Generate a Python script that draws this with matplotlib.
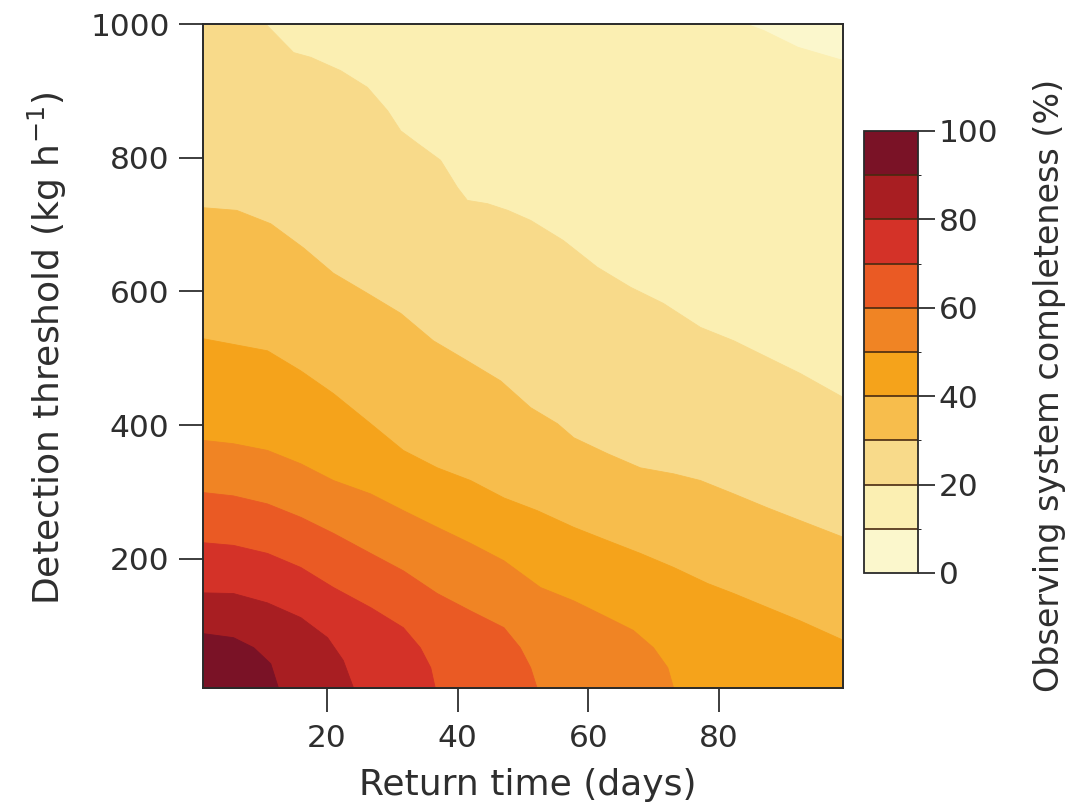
import matplotlib
matplotlib.use("Agg")
import matplotlib.pyplot as plt
import matplotlib.colors as mcolors
import matplotlib.colorbar as mcolorbar
import numpy as np

plt.rcParams['font.family'] = ['DejaVu Sans']

# Contour levels (completeness %) and band colours (0-10 ... 90-100)
levels = [0, 10, 20, 30, 40, 50, 60, 70, 80, 90, 100]
band_colors = ['#fbf7cc', '#fbefb2', '#f8da8a', '#f7bd4c', '#f5a31b',
               '#f08424', '#ea5a24', '#d43228', '#a81e22', '#7a1226']

# Detection threshold (kg/h) at which completeness equals each level,
# as a function of return time (days)
b10_x = [1, 84.3, 86.8, 92.0, 99]
b10_y = [1000, 1000, 991, 966, 946]

b20_x = [1, 10.6, 14.8, 17.4, 22.0, 26.1, 29.2, 31.2, 33.8, 37.3, 39.9, 41.4,
         44.5, 47.6, 51.1, 56.1, 61.3, 66.4, 71.4, 77.1, 82.2, 87.4, 92.4, 99]
b20_y = [1000, 1000, 958, 951, 931, 906, 871, 841, 822, 797, 756, 737,
         732, 722, 707, 677, 637, 607, 583, 547, 527, 502, 478, 442]

b30_x = [1, 6.1, 11.3, 16.3, 20.9, 26.1, 31.2, 36.2, 41.4, 46.5, 51.1, 55.2,
         57.7, 62.9, 67.9, 73.0, 77.1, 82.2, 87.4, 92.4, 99]
b30_y = [726, 722, 702, 666, 628, 598, 568, 527, 497, 467, 427, 403,
         382, 358, 337, 328, 318, 298, 277, 258, 233]

b40_x = [1, 10.8, 15.9, 20.9, 26.6, 31.6, 36.8, 41.9, 47.0, 52.1, 57.7, 62.9,
         67.9, 73.0, 78.2, 82.2, 87.4, 92.4, 99]
b40_y = [530, 512, 482, 448, 403, 363, 337, 318, 292, 273, 248, 228,
         209, 188, 164, 149, 128, 108, 79]

b50_x = [1, 5.6, 10.8, 15.9, 20.9, 26.6, 31.6, 36.8, 41.9, 47.0, 52.6, 57.7,
         62.9, 66.8, 69.9, 72.1, 73.0]
b50_y = [378, 373, 363, 343, 318, 298, 273, 248, 224, 198, 158, 138,
         113, 94, 68, 38, 7]

b60_x = [1, 5.6, 10.8, 15.9, 20.9, 26.6, 31.6, 36.8, 41.9, 47.0, 49.5, 51.1, 52.1]
b60_y = [300, 295, 283, 263, 239, 209, 183, 149, 123, 98, 68, 38, 7]

b70_x = [1, 5.6, 10.8, 15.9, 20.9, 26.6, 31.6, 34.2, 35.8, 36.5]
b70_y = [225, 221, 209, 188, 158, 128, 98, 68, 38, 7]

b80_x = [1, 5.6, 10.8, 15.9, 20.0, 22.4, 24.0]
b80_y = [150, 149, 135, 113, 83, 49, 7]

b90_x = [1, 5.6, 8.7, 11.3, 12.5]
b90_y = [89, 83, 68, 44, 7]

boundaries = [(b10_x, b10_y), (b20_x, b20_y), (b30_x, b30_y), (b40_x, b40_y),
              (b50_x, b50_y), (b60_x, b60_y), (b70_x, b70_y), (b80_x, b80_y),
              (b90_x, b90_y)]

x_ticks = [20, 40, 60, 80]
y_ticks = [200, 400, 600, 800, 1000]
cb_ticks = [0, 20, 40, 60, 80, 100]

XMIN, XMAX, YMIN, YMAX = 1, 99, 7, 1000
text_color = '#2e2e2e'

W, H = 1089, 810
fig = plt.figure(figsize=(W / 100, H / 100), dpi=100)
ax = fig.add_axes([203 / W, 1 - 688 / H, 640 / W, 664 / H])
ax.set_facecolor(band_colors[0])

for i, (bx, by) in enumerate(boundaries):
    ax.fill_between(bx, YMIN, by, color=band_colors[i + 1], linewidth=0.6,
                    edgecolor=band_colors[i + 1], zorder=2 + i)

ax.set_xlim(XMIN, XMAX)
ax.set_ylim(YMIN, YMAX)
ax.set_xticks(x_ticks)
ax.set_yticks(y_ticks)
ax.tick_params(axis='both', direction='out', length=17, width=1.3,
               labelsize=22.5, colors=text_color, pad=7)
ax.tick_params(axis='x', pad=9)
for s in ax.spines.values():
    s.set_linewidth(1.4)
    s.set_color('#2a2a2a')
    s.set_zorder(20)

fig.text((357 + 698) / 2 / W, 1 - 785 / H, 'Return time (days)',
         fontsize=26, color=text_color, ha='center', va='center')
fig.text(47 / W, 1 - 348 / H, 'Detection threshold (kg h$^{\\mathregular{-1}}$)',
         fontsize=26, color=text_color, ha='center', va='center', rotation=90)

cax = fig.add_axes([864 / W, 1 - 573 / H, 54 / W, 442 / H])
cmap = mcolors.ListedColormap(band_colors)
norm = mcolors.BoundaryNorm(levels, cmap.N)
cb = mcolorbar.ColorbarBase(cax, cmap=cmap, norm=norm, boundaries=levels,
                            ticks=cb_ticks, drawedges=True)
cb.outline.set_linewidth(1.3)
cb.outline.set_edgecolor('#2a2a2a')
cb.dividers.set_color('#4a2a10')
cb.dividers.set_linewidth(1.2)
cax.tick_params(direction='out', length=12, width=1.3, labelsize=22.5,
                colors=text_color, pad=3)
fig.text(1050 / W, 1 - 385 / H, 'Observing system completeness (%)',
         fontsize=24, color=text_color, ha='center', va='center', rotation=90)

fig.savefig('out.png', dpi=100)
